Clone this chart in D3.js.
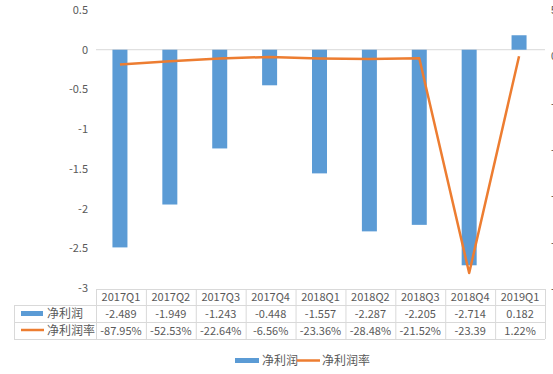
<!DOCTYPE html>
<html><head><meta charset="utf-8">
<script src="https://cdn.jsdelivr.net/npm/d3@7"></script>
<style>
html,body{margin:0;padding:0;background:#fff;}
svg{display:block;font-family:"Noto Sans CJK SC","Noto Sans",sans-serif;}
</style></head>
<body><svg id="c" width="553" height="374"></svg>
<script>
const categories = ["2017Q1","2017Q2","2017Q3","2017Q4","2018Q1","2018Q2","2018Q3","2018Q4","2019Q1"];
const profit = [-2.489,-1.949,-1.243,-0.448,-1.557,-2.287,-2.205,-2.714,0.182];
const profitLabels = ["-2.489","-1.949","-1.243","-0.448","-1.557","-2.287","-2.205","-2.714","0.182"];
const margin = [-0.8795,-0.5253,-0.2264,-0.0656,-0.2336,-0.2848,-0.2152,-23.39,0.0122];
const marginLabels = ["-87.95%","-52.53%","-22.64%","-6.56%","-23.36%","-28.48%","-21.52%","-23.39","1.22%"];
const leftTicks = [0.5,0,-0.5,-1,-1.5,-2,-2.5,-3];
const rightTicks = [5,0,-5,-10,-15,-20,-25];
const seriesNames = ["净利润","净利润率"];

const svg = d3.select("#c");
const blue = "#5B9BD5", orange = "#ED7D31", txt = "#595959", grid = "#d9d9d9";
const x = d3.scaleBand().domain(categories).range([96,545]);
const y = d3.scaleLinear().domain([-3,0.5]).range([288,10]);
const y2 = d3.scaleLinear().domain([-25,5]).range([288,10]);

// left axis labels
const ax = svg.append("g").attr("transform","translate(88,0)")
  .call(d3.axisLeft(y).tickValues(leftTicks).tickSize(0).tickPadding(0).tickFormat(d=>String(d)));
ax.select(".domain").remove();
ax.selectAll("text").attr("fill",txt).style("font-size","11px").style("font-family","'Noto Sans CJK SC'");

// right axis labels (mostly clipped)
const ax2 = svg.append("g").attr("transform","translate(551,0)")
  .call(d3.axisRight(y2).tickValues(rightTicks).tickSize(0).tickPadding(0).tickFormat(d=>String(d)));
ax2.select(".domain").remove();
ax2.selectAll("text").attr("fill",txt).style("font-size","11px");

// zero line
svg.append("line").attr("x1",96).attr("x2",545).attr("y1",y(0)).attr("y2",y(0))
  .attr("stroke",grid).attr("stroke-width",1);

// bars
const bw = 15;
svg.selectAll("rect.bar").data(profit).join("rect").attr("class","bar")
  .attr("x",(d,i)=>x(categories[i])+x.bandwidth()/2-bw/2 - 1)
  .attr("width",bw)
  .attr("y",d=>y(Math.max(0,d)))
  .attr("height",d=>Math.abs(y(d)-y(0)))
  .attr("fill",blue);

// line
const line = d3.line().x((d,i)=>x(categories[i])+x.bandwidth()/2-1).y(d=>y2(d));
svg.append("path").datum(margin).attr("d",line).attr("fill","none")
  .attr("stroke",orange).attr("stroke-width",2.5).attr("stroke-linejoin","round");

// data table
const rowY = [289,305,322,339];
const tg = svg.append("g");
const hl = (x1,x2,yy)=>tg.append("line").attr("x1",x1).attr("x2",x2).attr("y1",yy+0.5).attr("y2",yy+0.5).attr("stroke",grid);
hl(96,545,rowY[0]); hl(14,545,rowY[1]); hl(14,545,rowY[2]); hl(14,545,rowY[3]);
tg.append("line").attr("x1",14.5).attr("x2",14.5).attr("y1",rowY[1]).attr("y2",rowY[3]).attr("stroke",grid);
categories.forEach((c,i)=>{
  const xv = x(c)+0.5;
  tg.append("line").attr("x1",xv).attr("x2",xv).attr("y1",rowY[0]).attr("y2",rowY[3]).attr("stroke",grid);
});
tg.append("line").attr("x1",545.5).attr("x2",545.5).attr("y1",rowY[0]).attr("y2",rowY[3]).attr("stroke",grid);
const rows = [categories, profitLabels, marginLabels];
rows.forEach((r,ri)=>{
  tg.selectAll(null).data(r).join("text")
    .attr("x",(d,i)=>x(categories[i])+x.bandwidth()/2)
    .attr("y",(rowY[ri]+rowY[ri+1])/2+4)
    .attr("text-anchor","middle").attr("fill",txt).style("font-size","11px").text(d=>d);
});
// row headers
tg.append("rect").attr("x",21).attr("y",311).attr("width",22).attr("height",5).attr("fill",blue);
tg.append("text").attr("x",47).attr("y",318).attr("fill",txt).style("font-size","12px").text(seriesNames[0]);
tg.append("line").attr("x1",21).attr("x2",44).attr("y1",330).attr("y2",330).attr("stroke",orange).attr("stroke-width",2.5);
tg.append("text").attr("x",47).attr("y",335).attr("fill",txt).style("font-size","12px").text(seriesNames[1]);

// legend
const lg = svg.append("g");
lg.append("rect").attr("x",235).attr("y",358).attr("width",24).attr("height",5).attr("fill",blue);
lg.append("text").attr("x",262).attr("y",365).attr("fill",txt).style("font-size","12px").text(seriesNames[0]);
lg.append("line").attr("x1",297).attr("x2",320).attr("y1",360.5).attr("y2",360.5).attr("stroke",orange).attr("stroke-width",2.5);
lg.append("text").attr("x",322).attr("y",365).attr("fill",txt).style("font-size","12px").text(seriesNames[1]);
</script></body></html>
